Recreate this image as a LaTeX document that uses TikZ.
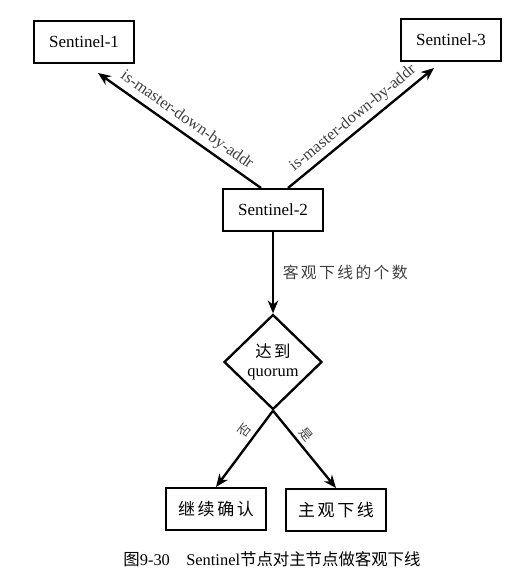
\documentclass[tikz,border=0pt]{standalone}
\usepackage{fontspec}
\setmainfont{Liberation Serif}
\newfontfamily\cjk[LetterSpace=15]{Noto Sans CJK SC}
\newfontfamily\cjkcap{Noto Sans CJK SC}
\usepackage{tikz}
\usetikzlibrary{positioning,shapes.geometric,arrows.meta}

\begin{document}
\begin{tikzpicture}[x=0.03cm,y=-0.03cm,
	box/.style={draw,line width=2pt,minimum width=3cm,minimum height=1.25cm,font=\fontsize{14.5}{16}\selectfont},
	decide/.style={draw,diamond,aspect=1,line width=2pt,minimum width=2.94cm,minimum height=2.85cm,inner sep=0pt,align=center,font=\fontsize{14}{16}\selectfont},
	link/.style={line width=2pt,-{Stealth[length=11pt,width=9pt]}},
	lbl/.style={font=\fontsize{14}{16}\selectfont,text=black!75}]
	\useasboundingbox (0,0) rectangle (529,573);
	\node[box] (s1) at (84,42) {Sentinel-1};
	\node[box] (s3) at (451,40) {Sentinel-3};
	\node[box] (s2) at (273,210) {Sentinel-2};
	\node[decide] (q) at (273,362) {{\cjk 达到}\\quorum};
	\node[box] (no) at (216,509) {\cjk 继续确认};
	\node[box] (yes) at (336,510) {\cjk 主观下线};
	\coordinate (t1) at (98,73);
	\coordinate (t3) at (434,68);
	\draw[link] ([xshift=-0.36cm]s2.north) -- node[lbl,sloped,above,midway]{is-master-down-by-addr} (t1);
	\draw[link] ([xshift=0.45cm]s2.north) -- node[lbl,sloped,above,midway]{is-master-down-by-addr} (t3);
	\draw[link] (s2.south) -- node[lbl,right,midway,xshift=4pt,font=\fontsize{13.5}{16}\selectfont]{\cjk 客观下线的个数} (q.north);
	\draw[link] (q.south) -- node[lbl,sloped,above,pos=0.35,font=\fontsize{11}{13}\selectfont]{\cjk 否} (no.north);
	\draw[link] (q.south) -- node[lbl,sloped,above,pos=0.4,font=\fontsize{11}{13}\selectfont]{\cjk 是} (yes.north);
	\node[font=\fontsize{14}{16}\selectfont] (cap) at (272,559) {{\cjkcap 图}9-30\quad Sentinel{\cjkcap 节点对主节点做客观下线}};
\end{tikzpicture}
\end{document}
